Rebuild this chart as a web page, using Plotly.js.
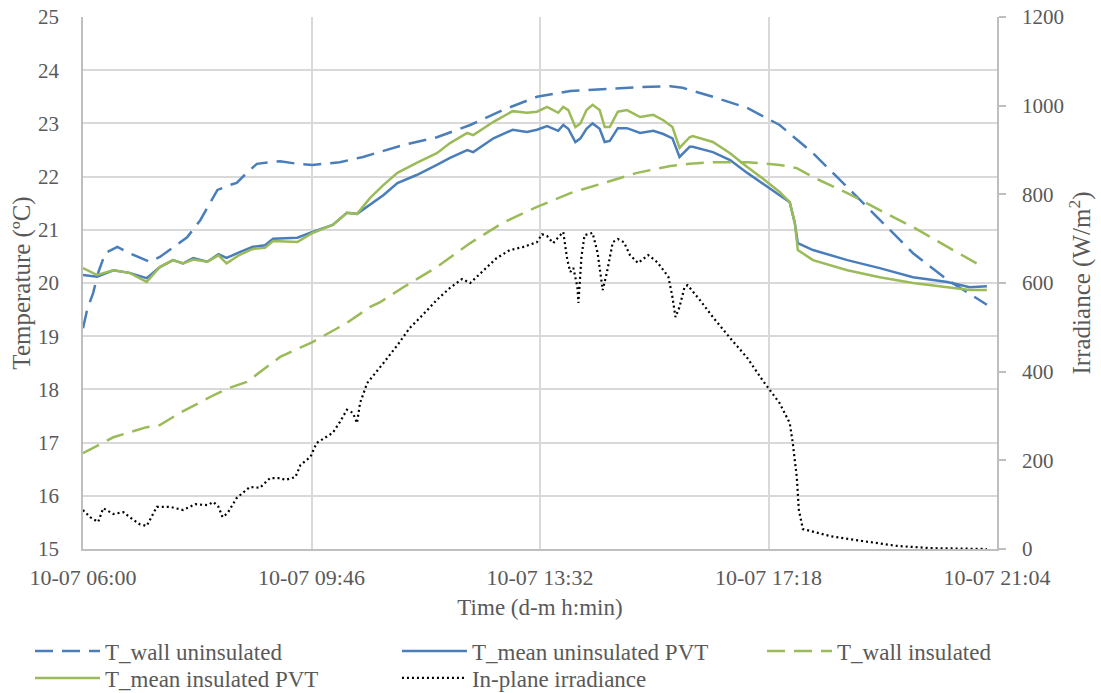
<!DOCTYPE html>
<html>
<head>
<meta charset="utf-8">
<script src="https://cdn.plot.ly/plotly-3.0.1.min.js"></script>
<style>html,body{margin:0;padding:0;background:#fff}#chart{width:1101px;height:693px}</style>
</head>
<body>
<div id="chart"></div>
<script>
const day = '2019-07-10 ';

const wallUninsTimes = ['06:00','06:04','06:10','06:15','06:22','06:34','06:46','07:06','07:16','07:43','07:56','08:13','08:25','08:32','08:42','08:52','09:15','09:32','09:47','10:14','10:37','10:44','11:16','11:50','12:23','12:55','13:29','14:02','14:34','15:08','15:41','15:53','16:23','16:57','17:29','18:02','18:36','19:08','19:41','20:15','20:54'];
const wallUninsTemp = [19.15,19.49,19.81,20.19,20.56,20.68,20.56,20.40,20.49,20.86,21.18,21.75,21.84,21.88,22.07,22.24,22.29,22.24,22.22,22.27,22.37,22.41,22.59,22.74,22.97,23.25,23.50,23.61,23.65,23.68,23.70,23.67,23.50,23.29,22.97,22.44,21.80,21.18,20.56,20.06,19.59];

const meanTimes = ['06:00','06:14','06:30','06:46','07:03','07:16','07:29','07:39','07:49','08:03','08:14','08:22','08:35','08:48','09:00','09:08','09:32','09:47','10:07','10:21','10:31','10:44','10:57','11:11','11:30','11:50','12:03','12:20','12:26','12:46','13:05','13:19','13:29','13:39','13:50','13:55','14:00','14:07','14:12','14:18','14:24','14:31','14:36','14:41','14:49','14:58','15:11','15:24','15:34','15:43','15:50','16:00','16:03','16:23','16:40','16:57','17:12','17:29','17:39','17:44','17:47','18:02','18:36','19:08','19:41','20:15','20:37','20:54'];
const meanUninsTemp = [20.15,20.12,20.24,20.19,20.09,20.30,20.43,20.37,20.47,20.40,20.54,20.47,20.58,20.68,20.71,20.83,20.85,20.96,21.09,21.32,21.30,21.47,21.65,21.88,22.03,22.22,22.35,22.50,22.46,22.72,22.88,22.84,22.88,22.95,22.86,22.97,22.90,22.65,22.72,22.90,23.00,22.90,22.65,22.67,22.91,22.91,22.82,22.86,22.80,22.72,22.37,22.56,22.56,22.46,22.31,22.07,21.88,21.65,21.52,21.13,20.75,20.62,20.43,20.28,20.11,20.02,19.92,19.94];
const meanInsTemp = [20.28,20.15,20.24,20.19,20.02,20.30,20.43,20.37,20.44,20.40,20.52,20.37,20.53,20.64,20.66,20.79,20.77,20.94,21.09,21.32,21.30,21.60,21.84,22.07,22.26,22.44,22.63,22.82,22.78,23.03,23.23,23.20,23.22,23.31,23.20,23.31,23.25,22.93,23.00,23.25,23.35,23.25,22.93,22.93,23.22,23.25,23.12,23.16,23.06,22.93,22.54,22.74,22.76,22.65,22.44,22.18,21.97,21.71,21.52,21.13,20.62,20.43,20.24,20.11,20.00,19.92,19.87,19.87];

const wallInsTimes = ['06:00','06:30','07:03','07:16','07:36','08:09','08:25','08:42','09:15','09:47','10:21','10:44','10:54','11:16','11:50','12:23','12:55','13:29','14:02','14:34','15:08','15:41','16:00','16:23','16:57','17:29','17:46','18:02','18:36','19:08','19:41','20:15','20:50'];
const wallInsTemp = [16.80,17.10,17.29,17.33,17.56,17.89,18.03,18.14,18.61,18.89,19.25,19.55,19.64,19.91,20.30,20.75,21.13,21.43,21.69,21.88,22.07,22.20,22.24,22.27,22.27,22.22,22.16,21.99,21.69,21.37,21.05,20.68,20.30];

const irrTimes = ['06:00','06:07','06:15','06:20','06:30','06:40','06:46','06:56','07:03','07:08','07:13','07:26','07:39','07:51','08:03','08:09','08:14','08:18','08:23','08:32','08:45','08:55','09:05','09:15','09:20','09:30','09:35','09:45','09:51','10:07','10:14','10:21','10:27','10:31','10:34','10:41','10:52','10:57','11:11','11:23','11:36','11:50','12:03','12:15','12:23','12:36','12:49','13:02','13:15','13:29','13:34','13:39','13:45','13:50','13:55','13:59','14:02','14:05','14:09','14:10','14:13','14:16','14:24','14:29','14:34','14:38','14:44','14:49','14:55','15:01','15:09','15:19','15:28','15:39','15:43','15:46','15:50','15:55','15:58','16:10','16:23','16:40','16:57','17:12','17:29','17:39','17:42','17:46','17:48','17:52','18:19','18:51','19:25','19:58','20:54'];
const irradiance = [88,72,61,92,79,83,72,56,52,72,95,95,88,101,99,106,95,72,81,115,140,138,160,160,156,162,189,208,239,262,286,314,307,284,329,374,404,419,460,498,528,562,589,609,600,629,656,674,681,692,710,706,690,703,715,652,625,634,591,555,659,708,713,668,584,622,692,699,692,663,645,663,647,614,568,523,546,591,595,562,523,476,431,381,329,284,239,162,88,45,29,18,7,2,0];

const xTicks = ['06:00','09:46','13:32','17:18','21:04'];
const seriesNames = ['T_wall uninsulated','T_mean uninsulated PVT','T_wall insulated','T_mean insulated PVT','In-plane irradiance'];

const blue = '#4a7ebb', green = '#9bbb59';
const fnt = "'Liberation Serif', 'Times New Roman', Tinos, serif";
const grey = '#595959';
const toX = a => a.map(t => day + t);

const traces = [
  {x: toX(wallUninsTimes), y: wallUninsTemp, name: seriesNames[0], legend: 'legend', mode: 'lines', line: {color: blue, width: 2.5, dash: '18px,9px'}},
  {x: toX(meanTimes), y: meanUninsTemp, name: seriesNames[1], legend: 'legend2', mode: 'lines', line: {color: blue, width: 2.5}},
  {x: toX(wallInsTimes), y: wallInsTemp, name: seriesNames[2], legend: 'legend3', mode: 'lines', line: {color: green, width: 2.5, dash: '18px,9px'}},
  {x: toX(meanTimes), y: meanInsTemp, name: seriesNames[3], legend: 'legend4', mode: 'lines', line: {color: green, width: 2.5}},
  {x: toX(irrTimes), y: irradiance, name: seriesNames[4], legend: 'legend5', mode: 'lines', yaxis: 'y2', line: {color: '#000', width: 2.2, dash: '2px,3px'}}
];

function leg(x, y) {
  return {
    orientation: 'h', x: x, xanchor: 'left', y: y, yanchor: 'middle',
    font: {family: fnt, size: 23, color: grey},
    itemwidth: 65, borderwidth: 0, bgcolor: 'rgba(0,0,0,0)'
  };
}
const row1 = -0.1917, row2 = -0.2425;
const col1 = -0.058, col2 = 0.3435, col3 = 0.7429;

const layout = {
  width: 1101, height: 693,
  margin: {l: 83, r: 104, t: 17, b: 144, autoexpand: false},
  paper_bgcolor: '#fff', plot_bgcolor: '#fff',
  font: {family: fnt, size: 21, color: grey},
  showlegend: true,
  xaxis: {
    type: 'date',
    range: [day + '06:00', day + '21:04'],
    tickvals: toX(xTicks),
    ticktext: xTicks.map(t => '10-07 ' + t),
    showgrid: true, gridcolor: '#d9d9d9', gridwidth: 1.5,
    showline: true, linecolor: '#bfbfbf', linewidth: 1.5,
    ticks: '', zeroline: false, ticklabelstandoff: 8,
    tickfont: {family: fnt, size: 22, color: grey},
    title: {text: 'Time (d-m h:min)', font: {family: fnt, size: 23, color: grey}, standoff: 10}
  },
  yaxis: {
    range: [15, 25], dtick: 1,
    showgrid: true, gridcolor: '#d9d9d9', gridwidth: 1.5,
    showline: true, linecolor: '#bfbfbf', linewidth: 1.5,
    ticks: '', zeroline: false, ticklabelstandoff: 18,
    tickfont: {family: fnt, size: 21, color: grey},
    title: {text: 'Temperature (ºC)', font: {family: fnt, size: 25, color: grey}, standoff: 0}
  },
  yaxis2: {
    range: [0, 1200], dtick: 200, overlaying: 'y', side: 'right',
    showgrid: false, zeroline: false,
    showline: true, linecolor: '#bfbfbf', linewidth: 1.5,
    ticks: 'outside', ticklen: 7, tickcolor: '#bfbfbf', tickwidth: 1.5, ticklabelstandoff: 12,
    tickfont: {family: fnt, size: 21, color: grey},
    title: {text: 'Irradiance (W/m<sup>2</sup>)', font: {family: fnt, size: 25, color: grey}, standoff: 10}
  },
  legend: leg(col1, row1),
  legend2: leg(col2, row1),
  legend3: leg(col3, row1),
  legend4: leg(col1, row2),
  legend5: leg(col2, row2)
};

Plotly.newPlot('chart', traces, layout, {displayModeBar: false});
</script>
</body>
</html>
